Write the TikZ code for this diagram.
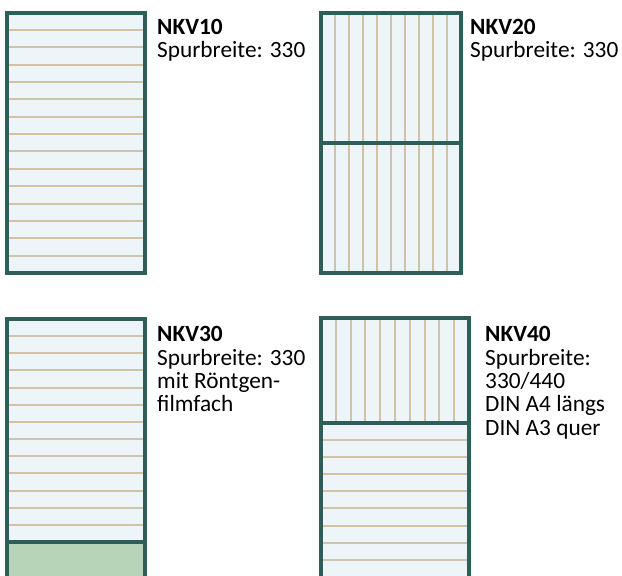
\documentclass[tikz,border=0pt]{standalone}
\usepackage{fontspec}
\setmainfont{Carlito}
\definecolor{frame}{RGB}{46,94,88}
\definecolor{tray}{RGB}{238,245,248}
\definecolor{railtan}{RGB}{210,194,166}
\definecolor{film}{RGB}{183,212,184}
\begin{document}
\begin{tikzpicture}[x=1pt,y=-1pt,
  outline/.style={draw=frame,line width=4pt},
  rail/.style={draw=railtan,line width=2pt},
  label/.style={anchor=base west,inner sep=0pt,align=left,font=\fontsize{23.3}{23.3}\selectfont}]
		\useasboundingbox (0,0) rectangle (622,576);
		\clip (0,0) rectangle (622,576);
		
		% NKV10
		\fill[tray] (7,12.5) rectangle (145,273);
		\foreach \i in {1,...,14}
			\draw[rail] (9,12.5+17.37*\i) -- (143,12.5+17.37*\i);
		\draw[outline] (7,12.5) rectangle (145,273);
		\node[label] (nkv10) at (157,57.5) {\textbf{NKV10}\\Spurbreite: 330};
		
		% NKV20
		\fill[tray] (321,12.5) rectangle (461,273);
		\foreach \i in {1,...,9}
			\draw[rail] (321+14*\i,14) -- (321+14*\i,271);
		\draw[outline] (321,12.5) rectangle (461,273);
		\draw[outline] (321,142.8) -- (461,142.8);
		\node[label] (nkv20) at (470,57.5) {\textbf{NKV20}\\Spurbreite: 330};
		
		% NKV30
		\fill[tray] (7,319) rectangle (145,542);
		\fill[film] (7,542) rectangle (145,582);
		\foreach \i in {1,...,12}
			\draw[rail] (9,319+17.15*\i) -- (143,319+17.15*\i);
		\draw[outline] (7,319) rectangle (145,582);
		\draw[outline] (7,542) -- (145,542);
		\node[label] (nkv30) at (157,411.7) {\textbf{NKV30}\\Spurbreite: 330\\mit Röntgen-\\filmfach};
		
		% NKV40
		\fill[tray] (321,318) rectangle (469,582);
		\foreach \i in {1,...,9}
			\draw[rail] (321+14.8*\i,320) -- (321+14.8*\i,421);
		\foreach \i in {1,...,8}
			\draw[rail] (323,422.7+17.15*\i) -- (467,422.7+17.15*\i);
		\draw[outline] (321,318) rectangle (469,582);
		\draw[outline] (321,422.7) -- (469,422.7);
		\node[label] (nkv40) at (485,435) {\textbf{NKV40}\\Spurbreite:\\330/440\\DIN A4 längs\\DIN A3 quer};
	\end{tikzpicture}
\end{document}
